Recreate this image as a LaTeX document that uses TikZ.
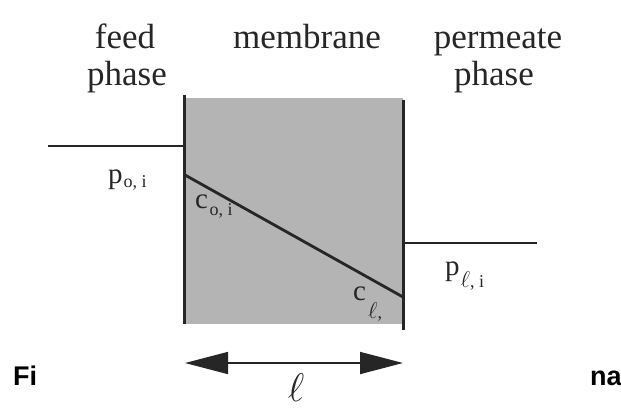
\RequirePackage{fix-cm}
\documentclass[tikz,border=0pt]{standalone}
\usepackage{fontspec}
\setmainfont{Liberation Serif}
\newfontfamily\capfont{Liberation Sans}
\usetikzlibrary{arrows.meta}
\definecolor{memgray}{RGB}{180,180,180}
\tikzset{
  wall/.style={line width=2.8pt, black!85},
  level/.style={line width=1.6pt, black!85},
  head/.style={anchor=base, inner sep=0pt, font=\fontsize{35}{35}\selectfont, text=black!85},
  sym/.style={anchor=base west, inner sep=0pt, font=\fontsize{29}{29}\selectfont, text=black!85},
  captext/.style={anchor=base west, inner sep=0pt, font=\capfont\bfseries\fontsize{27}{27}\selectfont},
  bigtip/.style={-{Triangle[length=43pt,width=22pt]}}
}
\newcommand\mysub[2]{\raisebox{#1}{\fontsize{18}{18}\selectfont #2}}
\newcommand\subell{{\fontsize{23}{23}\selectfont$\ell$}}
\begin{document}
\begin{tikzpicture}[x=1pt,y=-1pt]
\useasboundingbox (0,0) rectangle (621,408);
% headings
\node[head] (feed) at (125,48) {feed};
\node[head] (fphase) at (127,85) {phase};
\node[head] (memb) at (307,48) {membrane};
\node[head] (perm) at (498,48) {permeate};
\node[head] (pphase) at (494,85) {phase};
% membrane
\fill[memgray] (185,98) rectangle (403,324);
\coordinate (LT) at (184.5,95);
\coordinate (LB) at (184.5,324);
\coordinate (RT) at (403.5,100);
\coordinate (RB) at (403.5,330);
\draw[wall] (LT) -- (LB);
\draw[wall] (RT) -- (RB);
% concentration profile
\coordinate (c0) at (185,175);
\coordinate (cl) at (403,297);
\draw[wall] (c0) -- (cl);
% pressure levels
\coordinate (f0) at (48,146);
\coordinate (f1) at (184,146);
\coordinate (p0) at (405,243);
\coordinate (p1) at (537,243);
\draw[level] (f0) -- (f1);
\draw[level] (p0) -- (p1);
% labels
\node[sym] (poi) at (108,183) {p\kern1pt\mysub{-4pt}{o, i}};
\node[sym] (coi) at (195,208) {c\kern1.5pt\mysub{-7pt}{o, i}};
\node[sym] (pli) at (445,275) {p\kern1pt\mysub{-12pt}{\subell, i}};
\node[sym] (cli) at (353,300) {c\kern2pt\mysub{-18pt}{\subell,}};
% thickness arrow
\coordinate (aL) at (185,363);
\coordinate (aR) at (403,363);
\coordinate (aM) at (294,363);
\draw[level, bigtip] (aM) -- (aR);
\draw[level, bigtip] (aM) -- (aL);
\node[anchor=base, inner sep=0pt, text=black!85] (ell) at (296,401) {\fontsize{40}{40}\selectfont$\ell$};
% caption fragments
\node[captext] (fi) at (13,385) {Fi};
\node[captext] (na) at (590,385) {na};
\end{tikzpicture}
\end{document}
